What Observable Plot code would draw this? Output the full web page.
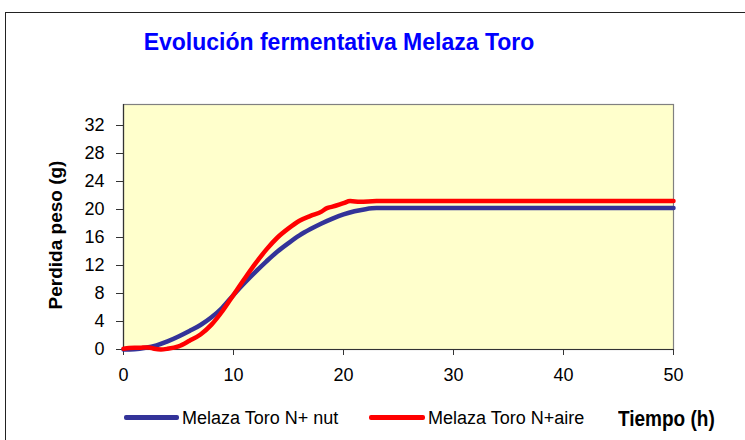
<!DOCTYPE html>
<html>
<head>
<meta charset="utf-8">
<script src="https://cdn.jsdelivr.net/npm/d3@7"></script>
<script src="https://cdn.jsdelivr.net/npm/@observablehq/plot@0.6"></script>
<style>
  html, body { margin: 0; padding: 0; background: #fff; }
  body { width: 745px; height: 440px; position: relative; overflow: hidden; font-family: "Liberation Sans", Arial, sans-serif; }
  #frame { position: absolute; left: 5px; top: 12px; width: 760px; height: 460px; border: 1.5px solid #222; box-sizing: border-box; }
  #chart { position: absolute; left: 0; top: 0; }
  #title { position: absolute; left: 0; width: 678px; top: 30px; text-align: center; color: #0000ff; font-weight: bold; font-size: 23px; line-height: 24px; }
  .leg { position: absolute; top: 408px; font-size: 18px; line-height: 20px; color: #000; white-space: nowrap; }
  .sw { position: absolute; top: 415px; height: 4.5px; border-radius: 2px; }
  #xlabel { position: absolute; left: 618px; top: 408px; font-weight: bold; font-size: 19px; line-height: 22px; color: #000; transform: scaleY(1.12); }
</style>
</head>
<body>
<div id="frame"></div>
<div id="chart"></div>
<div id="title"></div>
<div class="sw" id="sw1" style="left:124px; width:55px;"></div>
<div class="leg" id="leg1" style="left:182px;"></div>
<div class="sw" id="sw2" style="left:369px; width:56px;"></div>
<div class="leg" id="leg2" style="left:428px;"></div>
<div id="xlabel"></div>
<script>
const titleText = "Evolución fermentativa Melaza Toro";
const yLabel = "Perdida peso (g)";
const xLabel = "Tiempo (h)";
const seriesNames = ["Melaza Toro N+ nut", "Melaza Toro N+aire"];
const seriesColors = ["#333399", "#ff0000"];
const xTicks = [0, 10, 20, 30, 40, 50];
const yTicks = [0, 4, 8, 12, 16, 20, 24, 28, 32];

const tiempoNut = [0, 1, 2, 3, 4, 5, 6, 7, 8, 9, 10, 11, 12, 13, 14, 15, 16, 17, 18, 19, 20, 21, 22, 23, 50];
const nut = [0, 0.05, 0.25, 0.6, 1.15, 1.85, 2.65, 3.5, 4.6, 6.0, 7.8, 9.5, 11.1, 12.6, 14.0, 15.2, 16.3, 17.2, 18.0, 18.7, 19.3, 19.75, 20.05, 20.2, 20.2];
const tiempoAire = [0, 0.5, 1, 1.5, 2, 2.3, 2.8, 3.4, 4, 5, 6, 7, 8, 9, 10, 11, 12, 13, 14, 15, 16, 17, 18, 18.5, 19, 20, 20.6, 21.5, 23, 50];
const aire = [0.1, 0.2, 0.25, 0.25, 0.3, 0.3, 0.1, 0.0, 0.1, 0.45, 1.25, 2.15, 3.55, 5.5, 7.8, 10.1, 12.3, 14.3, 16.0, 17.3, 18.4, 19.1, 19.7, 20.2, 20.4, 20.9, 21.2, 21.1, 21.2, 21.2];

const nutData = tiempoNut.map((t, i) => ({t, v: nut[i]}));
const aireData = tiempoAire.map((t, i) => ({t, v: aire[i]}));

document.getElementById("title").textContent = titleText;
document.getElementById("leg1").textContent = seriesNames[0];
document.getElementById("leg2").textContent = seriesNames[1];
document.getElementById("sw1").style.background = seriesColors[0];
document.getElementById("sw2").style.background = seriesColors[1];
document.getElementById("xlabel").textContent = xLabel;

const chart = Plot.plot({
  width: 745,
  height: 395,
  marginLeft: 123,
  marginRight: 72,
  marginTop: 104,
  marginBottom: 46,
  style: { fontFamily: "'Liberation Sans', Arial, sans-serif", fontSize: "18px", color: "#000", background: "transparent", overflow: "visible" },
  x: { domain: [0, 50], ticks: xTicks },
  y: { domain: [0, 35], ticks: yTicks },
  marks: [
    Plot.frame({ fill: "#ffffcc", stroke: "#808080", strokeWidth: 1.2 }),
    Plot.axisX({ ticks: xTicks, tickSize: 6, tickPadding: 13, label: null, stroke: "#333", fill: "#000" }),
    Plot.axisY({ ticks: yTicks, tickSize: 7, tickPadding: 12, label: null, stroke: "#333", fill: "#000" }),
    Plot.ruleX([0], { stroke: "#333", strokeWidth: 1.2 }),
    Plot.ruleY([0], { stroke: "#333", strokeWidth: 1.2 }),
    Plot.line(nutData, { x: "t", y: "v", stroke: seriesColors[0], strokeWidth: 4.5, curve: "monotone-x" }),
    Plot.line(aireData, { x: "t", y: "v", stroke: seriesColors[1], strokeWidth: 4.5, curve: "monotone-x" }),
    Plot.text([yLabel], { frameAnchor: "left", textAnchor: "middle", rotate: -90, dx: -68, dy: 8, fontWeight: "bold", fontSize: 19, fill: "#000" })
  ]
});
document.getElementById("chart").appendChild(chart);
</script>
</body>
</html>
